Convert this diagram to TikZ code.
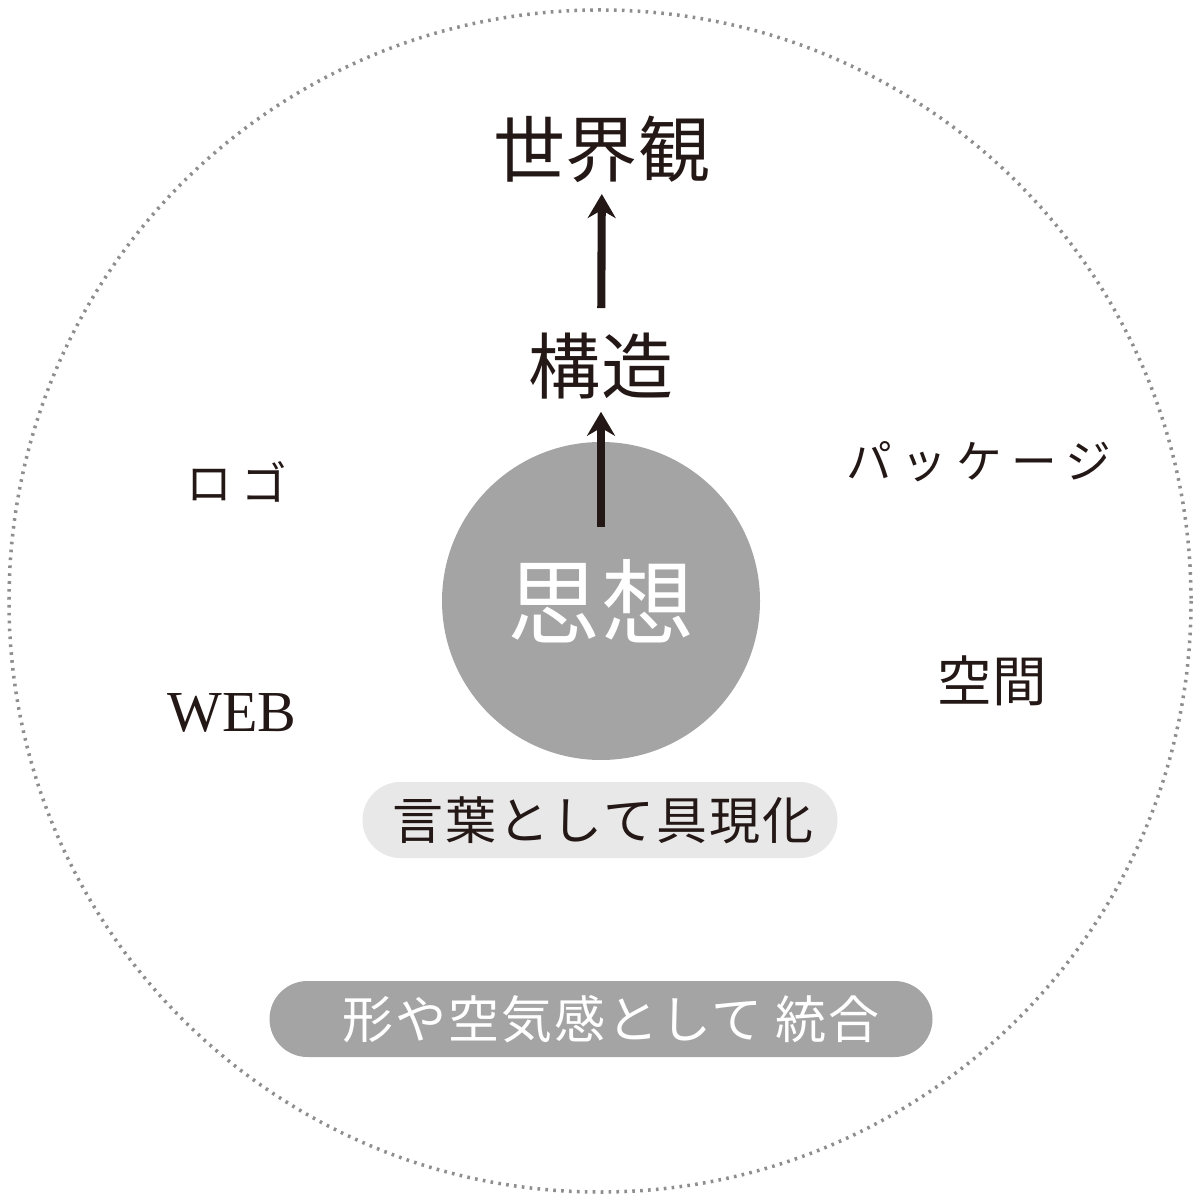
\documentclass[tikz,border=0pt]{standalone}
\usepackage{fontspec}
\setmainfont{Liberation Serif}
\newfontfamily\jp{Noto Sans CJK JP}
\newfontfamily\jpwide[LetterSpace=20]{Noto Sans CJK JP}
\newfontfamily\jpsp[LetterSpace=4]{Noto Sans CJK JP}
\usetikzlibrary{arrows.meta}
\definecolor{ink}{HTML}{231815}
\definecolor{shade}{HTML}{A4A4A4}
\definecolor{pale}{HTML}{E9E8E9}
\definecolor{dots}{HTML}{8E8E8E}

\begin{document}
\begin{tikzpicture}[x=0.1mm,y=-0.1mm,
    word/.style={inner sep=0pt,text=ink},
    pill/.style={rectangle,rounded corners=3.8mm,minimum height=7.6mm,inner sep=0pt},
    up/.style={line width=2.3pt,draw=ink,-{Stealth[length=2.4mm,width=2.8mm,inset=0.8mm]}}]
    \useasboundingbox (0,0) rectangle (1201,1201);
    \draw[dots,line width=1pt,dash pattern=on 0.75pt off 1.5pt] (600,601) circle[radius=591];

    \node[circle,fill=shade,text=white,inner sep=0pt,minimum size=31.8mm,font=\jp\fontsize{26.5}{30}\selectfont] (shiso) at (601,601) {思想};
    \coordinate (base) at (601,527);
    \node[word,font=\jp\fontsize{20.5}{24}\selectfont] (kozo) at (601,366) {構造};
    \node[word,font=\jp\fontsize{20.5}{24}\selectfont] (sekai) at (602,149) {世界観};
    \draw[up,shorten >=1.2mm] (base) -- (kozo);
    \draw[up,shorten <=2.4mm,shorten >=1.1mm] (kozo) -- (sekai);

    \node[word,font=\jpwide\fontsize{13}{15}\selectfont] (logo) at (237,482) {ロゴ};
    \node[word,font=\jpwide\fontsize{13}{15}\selectfont] (pkg) at (979,462) {パッケージ};
    \node[word,font=\fontsize{16.5}{19}\selectfont] (web) at (232,713) {WEB};
    \node[word,font=\jp\fontsize{15.5}{18}\selectfont] (kukan) at (992,681) {空間};

    \node[pill,fill=pale,text=ink,minimum width=47.5mm,font=\jpsp\fontsize{14.5}{17}\selectfont] (kotoba) at (600,820) {\hspace{0.6mm}言葉として具現化};
    \node[pill,fill=shade,text=white,minimum width=66.3mm,font=\jpsp\fontsize{14.5}{17}\selectfont] (togo) at (601,1019) {\hspace{2mm}形や空気感として 統合};
\end{tikzpicture}
\end{document}
